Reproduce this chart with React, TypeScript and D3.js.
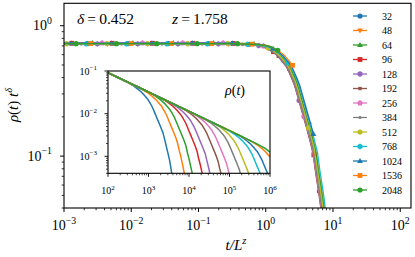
import React from 'react';
import * as d3 from 'd3';

const SIZES = [32, 48, 64, 96, 128, 192, 256, 384, 512, 768, 1024, 1536, 2048];
const COLORS = ['#1f77b4', '#ff7f0e', '#2ca02c', '#d62728', '#9467bd', '#8c564b', '#e377c2', '#7f7f7f', '#bcbd22', '#17becf', '#1f77b4', '#ff7f0e', '#2ca02c'];
const MARKERS = ['circle', 'tri-down', 'tri-up', 'square', 'hexagon', 'small-square', 'pentagon', 'dot', 'circle', 'hexagon', 'tri-up', 'square', 'circle'];
const DELTA = 0.452;
const Z = 1.758;
// scaling function rho(t) t^delta vs t/L^z
const COLLAPSE_X = [1e-7, 0.3, 0.6, 0.8, 1.0, 1.3, 1.6, 2.2, 2.8, 3.5, 4.4, 5.3, 5.9, 6.6, 7.0, 7.6, 8.2, 9.0, 10.0, 12.0];
const COLLAPSE_F = [0.73, 0.73, 0.72, 0.71, 0.69, 0.64, 0.59, 0.48, 0.36, 0.24, 0.158, 0.11, 0.073, 0.051, 0.04, 0.03, 0.02, 0.01, 0.004, 0.001];
// per-size plateau level and crossover shift (finite-size spread)
const LEVEL = [1.0, 0.99, 1.01, 1.005, 0.995, 1.0, 1.01, 0.99, 1.0, 0.995, 1.005, 1.0, 0.998];
const TAIL = [1.0, 1.06, 1.04, 0.96, 0.95, 0.94, 0.95, 0.97, 1.01, 1.1, 1.12, 1.2, 1.22];
const MAIN_X_TICKS = [1e-3, 1e-2, 1e-1, 1e0, 1e1, 1e2];
const MAIN_Y_TICKS = [1e-1, 1e0];
const INSET_X_TICKS = [1e2, 1e3, 1e4, 1e5, 1e6];
const INSET_Y_TICKS = [1e-3, 1e-2, 1e-1];
const T_MIN_EXP = 0;
const T_MAX_EXP = 6;
const T_STEP = 0.04;

const FONT = '"Liberation Serif", "DejaVu Serif", serif';

const W = 415, H = 257;
const M = { l: 64, r: 411, t: 3.3, b: 208 };
const I = { l: 108, r: 270, t: 71, b: 173.3 };

const xMain = d3.scaleLog().domain([1e-3, Math.pow(10, 2.16)]).range([M.l, M.r]);
const yMain = d3.scaleLog().domain([0.04, 1.486]).range([M.b, M.t]);
const xIn = d3.scaleLog().domain([1e2, 1e6]).range([I.l, I.r]);
const yIn = d3.scaleLog().domain([4e-4, 0.1]).range([I.b, I.t]);

const fScale = d3.scaleLog().domain(COLLAPSE_X).range(COLLAPSE_F.map(v => Math.log10(v))).clamp(true);
const fOf = (x: number) => Math.pow(10, fScale(x));

function minorTicks(lo: number, hi: number) {
  const out: number[] = [];
  for (let e = Math.floor(Math.log10(lo)); e <= Math.ceil(Math.log10(hi)); e++) {
    for (let m = 2; m <= 9; m++) {
      const v = m * Math.pow(10, e);
      if (v >= lo * 0.999 && v <= hi * 1.001) out.push(v);
    }
  }
  return out;
}

function poly(cx: number, cy: number, r: number, n: number, rot: number) {
  const pts = d3.range(n).map(k => {
    const a = rot + (2 * Math.PI * k) / n;
    return [cx + r * Math.sin(a), cy - r * Math.cos(a)];
  });
  return 'M' + pts.map(p => p[0].toFixed(2) + ',' + p[1].toFixed(2)).join('L') + 'Z';
}

function Marker({ shape, x, y, color }: { shape: string; x: number; y: number; color: string }) {
  switch (shape) {
    case 'circle':
      return <circle cx={x} cy={y} r={2.6} fill={color} />;
    case 'dot':
      return <circle cx={x} cy={y} r={1.6} fill={color} />;
    case 'square':
      return <rect x={x - 2.4} y={y - 2.4} width={4.8} height={4.8} fill={color} />;
    case 'small-square':
      return <rect x={x - 1.7} y={y - 1.7} width={3.4} height={3.4} fill={color} />;
    case 'tri-up':
      return <path d={poly(x, y + 0.4, 3.4, 3, 0)} fill={color} />;
    case 'tri-down':
      return <path d={poly(x, y - 0.4, 3.4, 3, Math.PI)} fill={color} />;
    case 'hexagon':
      return <path d={poly(x, y, 2.9, 6, 0)} fill={color} />;
    case 'pentagon':
      return <path d={poly(x, y, 3.0, 5, 0)} fill={color} />;
    default:
      return <circle cx={x} cy={y} r={2.5} fill={color} />;
  }
}

function Pow({ x, y, exp, size, anchor }: { x: number; y: number; exp: number; size: number; anchor: string }) {
  const s = exp < 0 ? '\u2212' + Math.abs(exp) : String(exp);
  return (
    <text x={x} y={y} fontSize={size} textAnchor={anchor as any} fontFamily={FONT} fill="#000">
      10<tspan dy={-size * 0.45} fontSize={size * 0.7}>{s}</tspan>
    </text>
  );
}

type Series = { i: number; main: [number, number][]; inset: [number, number][]; marks: [number, number][] };

function buildSeries(): Series[] {
  return SIZES.map((L, i) => {
    const Lz = Math.pow(L, Z);
    const main: [number, number][] = [];
    const inset: [number, number][] = [];
    const marks: [number, number][] = [];
    const n = Math.round((T_MAX_EXP - T_MIN_EXP) / T_STEP);
    for (let k = 0; k <= n; k++) {
      const t = Math.pow(10, T_MIN_EXP + k * T_STEP);
      const x = t / Lz;
      const f = fOf(x / TAIL[i]) * LEVEL[i];
      const rho = f * Math.pow(t, -DELTA);
      if (x >= 5e-4 && f > 0.02) {
        main.push([x, f]);
        if (k % 15 === 0) marks.push([x, f]);
      }
      if (t >= 90 && rho > 2e-4) inset.push([t, rho]);
    }
    return { i, main, inset, marks };
  });
}

export default function App() {
  const series = buildSeries();
  const lineMain = d3.line<[number, number]>().x(d => xMain(d[0])).y(d => yMain(d[1]));
  const lineIn = d3.line<[number, number]>().x(d => xIn(d[0])).y(d => yIn(d[1]));

  const mainXMinor = minorTicks(1e-3, Math.pow(10, 2.16)).filter(v => !MAIN_X_TICKS.includes(v));
  const mainYMinor = minorTicks(0.04, 1.486).filter(v => !MAIN_Y_TICKS.includes(v));
  const inXMinor = minorTicks(1e2, 1e6).filter(v => !INSET_X_TICKS.includes(v));
  const inYMinor = minorTicks(4e-4, 0.1).filter(v => !INSET_Y_TICKS.includes(v));

  const legendY0 = 16, legendStep = 14.5;

  return (
    <svg width={W} height={H} style={{ position: 'fixed', left: 0, top: 0, background: '#fff' }}>
      <defs>
        <clipPath id="clipMain"><rect x={M.l} y={M.t} width={M.r - M.l} height={M.b - M.t} /></clipPath>
        <clipPath id="clipIn"><rect x={I.l} y={I.t} width={I.r - I.l} height={I.b - I.t} /></clipPath>
      </defs>
      <rect x={0} y={0} width={W} height={H} fill="#fff" />

      {/* main data */}
      <g clipPath="url(#clipMain)">
        {series.map(s => (
          <g key={s.i}>
            <path d={lineMain(s.main) || ''} fill="none" stroke={COLORS[s.i]} strokeWidth={1.3} />
            {s.marks.map((p, k) => (
              <Marker key={k} shape={MARKERS[s.i]} x={xMain(p[0])} y={yMain(p[1])} color={COLORS[s.i]} />
            ))}
          </g>
        ))}
      </g>

      {/* main frame and ticks */}
      <rect x={M.l} y={M.t} width={M.r - M.l} height={M.b - M.t} fill="none" stroke="#000" strokeWidth={1.1} />
      {MAIN_X_TICKS.map(v => (
        <g key={'mx' + v}>
          <line x1={xMain(v)} x2={xMain(v)} y1={M.b} y2={M.b + 4} stroke="#000" strokeWidth={1} />
          <Pow x={xMain(v)} y={230} exp={Math.round(Math.log10(v))} size={14} anchor="middle" />
        </g>
      ))}
      {mainXMinor.map(v => (
        <line key={'mxm' + v} x1={xMain(v)} x2={xMain(v)} y1={M.b} y2={M.b + 2.3} stroke="#000" strokeWidth={0.8} />
      ))}
      {MAIN_Y_TICKS.map(v => (
        <g key={'my' + v}>
          <line x1={M.l - 4} x2={M.l} y1={yMain(v)} y2={yMain(v)} stroke="#000" strokeWidth={1} />
          <Pow x={52} y={yMain(v) + 4.5} exp={Math.round(Math.log10(v))} size={14} anchor="end" />
        </g>
      ))}
      {mainYMinor.map(v => (
        <line key={'mym' + v} x1={M.l - 2.3} x2={M.l} y1={yMain(v)} y2={yMain(v)} stroke="#000" strokeWidth={0.8} />
      ))}

      {/* axis labels */}
      <text x={236} y={250} fontSize={15} fontFamily={FONT} textAnchor="middle" fontStyle="italic">
        t/L<tspan dy={-6} fontSize={10.5}>z</tspan>
      </text>
      <text transform="translate(18,105) rotate(-90)" fontSize={15} fontFamily={FONT} textAnchor="middle">
        <tspan fontStyle="italic">ρ</tspan>(<tspan fontStyle="italic">t</tspan>) <tspan fontStyle="italic">t</tspan>
        <tspan dy={-6} fontSize={10.5} fontStyle="italic">δ</tspan>
      </text>

      {/* annotations */}
      <text x={77} y={24} fontSize={15.5} fontFamily={FONT}>
        <tspan fontStyle="italic">δ</tspan>{'\u2009=\u20090.452'}
      </text>
      <text x={172} y={24} fontSize={15.5} fontFamily={FONT}>
        <tspan fontStyle="italic">z</tspan>{'\u2009=\u20091.758'}
      </text>

      {/* inset */}
      <rect x={I.l} y={I.t} width={I.r - I.l} height={I.b - I.t} fill="#fff" />
      <g clipPath="url(#clipIn)">
        {series.map(s => (
          <path key={s.i} d={lineIn(s.inset) || ''} fill="none" stroke={COLORS[s.i]} strokeWidth={1.5} />
        ))}
      </g>
      <rect x={I.l} y={I.t} width={I.r - I.l} height={I.b - I.t} fill="none" stroke="#000" strokeWidth={1.1} />
      {INSET_X_TICKS.map(v => (
        <g key={'ix' + v}>
          <line x1={xIn(v)} x2={xIn(v)} y1={I.b} y2={I.b + 3.5} stroke="#000" strokeWidth={0.9} />
          <Pow x={xIn(v)} y={194} exp={Math.round(Math.log10(v))} size={10} anchor="middle" />
        </g>
      ))}
      {inXMinor.map(v => (
        <line key={'ixm' + v} x1={xIn(v)} x2={xIn(v)} y1={I.b} y2={I.b + 2} stroke="#000" strokeWidth={0.7} />
      ))}
      {INSET_Y_TICKS.map(v => (
        <g key={'iy' + v}>
          <line x1={I.l - 3.5} x2={I.l} y1={yIn(v)} y2={yIn(v)} stroke="#000" strokeWidth={0.9} />
          <Pow x={97} y={yIn(v) + 3.5} exp={Math.round(Math.log10(v))} size={10} anchor="end" />
        </g>
      ))}
      {inYMinor.map(v => (
        <line key={'iym' + v} x1={I.l - 2} x2={I.l} y1={yIn(v)} y2={yIn(v)} stroke="#000" strokeWidth={0.7} />
      ))}
      <text x={235} y={95} fontSize={14} fontFamily={FONT} textAnchor="middle">
        <tspan fontStyle="italic">ρ</tspan>(<tspan fontStyle="italic">t</tspan>)
      </text>

      {/* legend */}
      {SIZES.map((L, i) => {
        const y = legendY0 + i * legendStep;
        return (
          <g key={'lg' + L}>
            <line x1={353} x2={367} y1={y} y2={y} stroke={COLORS[i]} strokeWidth={1.3} />
            <Marker shape={MARKERS[i]} x={360} y={y} color={COLORS[i]} />
            <text x={382} y={y + 3.5} fontSize={10} fontFamily={FONT}>{L}</text>
          </g>
        );
      })}
    </svg>
  );
}
